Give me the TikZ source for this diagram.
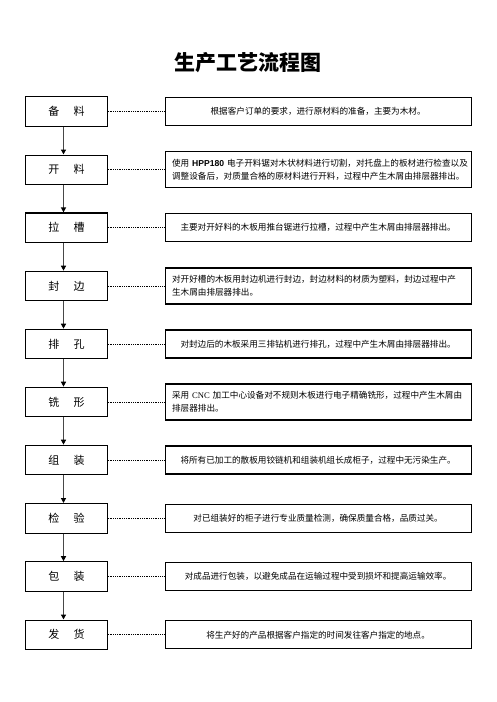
\documentclass[tikz,border=0pt]{standalone}
\usepackage{fontspec}
\setmainfont{Liberation Serif}
\setsansfont{Liberation Sans}
\newfontfamily\cjk{Noto Sans CJK SC}
\usetikzlibrary{arrows.meta, positioning}
\tikzset{
  stage/.style={draw, line width=1.1pt, minimum width=81.6pt, minimum height=29.5pt,
    inner sep=0pt, font=\cjk\fontsize{11}{13}\selectfont},
  note/.style={draw, line width=1.1pt, minimum width=306pt, minimum height=28pt,
    inner sep=6pt, text width=292pt, align=center, font=\cjk\fontsize{8.6}{13}\selectfont},
  notetwo/.style={note, minimum height=36pt, align=left},
  flow/.style={line width=1.9pt, black!72, -{Triangle[length=5pt, width=5pt, color=black]}},
  link/.style={line width=1pt, dash pattern=on 0.9pt off 0.9pt},
}

\begin{document}
\begin{tikzpicture}

  \useasboundingbox (0,0) rectangle (496pt,-702pt);

  % --- title ---
  \node[font=\cjk\bfseries\fontsize{21}{24}\selectfont] (title) at (247.5pt,-63pt) {生产工艺流程图};

  % --- process steps ---
  \node[stage] (beiliao)  at (66.5pt,-111.5pt) {备\hspace{1.3em}料};
  \node[stage] (kailiao)  at (66.5pt,-169.8pt) {开\hspace{1.3em}料};
  \node[stage] (lacao)    at (66.5pt,-227.7pt) {拉\hspace{1.3em}槽};
  \node[stage] (fengbian) at (66.5pt,-286pt)   {封\hspace{1.3em}边};
  \node[stage] (paikong)  at (66.5pt,-344pt)   {排\hspace{1.3em}孔};
  \node[stage] (xixing)   at (66.5pt,-402pt)   {铣\hspace{1.3em}形};
  \node[stage] (zuzhuang) at (66.5pt,-460pt)   {组\hspace{1.3em}装};
  \node[stage] (jianyan)  at (66.5pt,-518.3pt) {检\hspace{1.3em}验};
  \node[stage] (baozhuang) at (66.5pt,-576.5pt) {包\hspace{1.3em}装};
  \node[stage] (fahuo)    at (66.5pt,-634.8pt) {发\hspace{1.3em}货};

  % --- descriptions ---
  \node[note, right=56.7pt of beiliao] (beiliaonote)
    {根据客户订单的要求，进行原材料的准备，主要为木材。};
  \node[notetwo, right=56.7pt of kailiao] (kailiaonote)
    {使用 {\sffamily\bfseries HPP180} 电子开料锯对木状材料进行切割，对托盘上的板材进行检查以及\\
     调整设备后，对质量合格的原材料进行开料，过程中产生木屑由排层器排出。};
  \node[note, right=56.7pt of lacao] (lacaonote)
    {主要对开好料的木板用推台锯进行拉槽，过程中产生木屑由排层器排出。};
  \node[notetwo, right=56.7pt of fengbian] (fengbiannote)
    {对开好槽的木板用封边机进行封边，封边材料的材质为塑料，封边过程中产\\
     生木屑由排层器排出。};
  \node[note, right=56.7pt of paikong] (paikongnote)
    {对封边后的木板采用三排钻机进行排孔，过程中产生木屑由排层器排出。};
  \node[notetwo, right=56.7pt of xixing] (xixingnote)
    {采用 {\rmfamily CNC} 加工中心设备对不规则木板进行电子精确铣形，过程中产生木屑由\\
     排层器排出。};
  \node[note, right=56.7pt of zuzhuang] (zuzhuangnote)
    {将所有已加工的散板用铰链机和组装机组长成柜子，过程中无污染生产。};
  \node[note, right=56.7pt of jianyan] (jianyannote)
    {对已组装好的柜子进行专业质量检测，确保质量合格，品质过关。};
  \node[note, right=56.7pt of baozhuang] (baozhuangnote)
    {对成品进行包装，以避免成品在运输过程中受到损坏和提高运输效率。};
  \node[note, right=56.7pt of fahuo] (fahuonote)
    {将生产好的产品根据客户指定的时间发往客户指定的地点。};

  % --- dotted links ---
  \draw[link] (beiliao) -- (beiliaonote);
  \draw[link] (kailiao) -- (kailiaonote);
  \draw[link] (lacao) -- (lacaonote);
  \draw[link] (fengbian) -- (fengbiannote);
  \draw[link] (paikong) -- (paikongnote);
  \draw[link] (xixing) -- (xixingnote);
  \draw[link] (zuzhuang) -- (zuzhuangnote);
  \draw[link] (jianyan) -- (jianyannote);
  \draw[link] (baozhuang) -- (baozhuangnote);
  \draw[link] (fahuo) -- (fahuonote);

  % --- flow arrows ---
  \draw[flow] ([xshift=-3pt]beiliao.south) -- ([xshift=-3pt]kailiao.north);
  \draw[flow] ([xshift=-3pt]kailiao.south) -- ([xshift=-3pt]lacao.north);
  \draw[flow] ([xshift=-3pt]lacao.south) -- ([xshift=-3pt]fengbian.north);
  \draw[flow] ([xshift=-3pt]fengbian.south) -- ([xshift=-3pt]paikong.north);
  \draw[flow] ([xshift=-3pt]paikong.south) -- ([xshift=-3pt]xixing.north);
  \draw[flow] ([xshift=-3pt]xixing.south) -- ([xshift=-3pt]zuzhuang.north);
  \draw[flow] ([xshift=-3pt]zuzhuang.south) -- ([xshift=-3pt]jianyan.north);
  \draw[flow] ([xshift=-3pt]jianyan.south) -- ([xshift=-3pt]baozhuang.north);
  \draw[flow] ([xshift=-3pt]baozhuang.south) -- ([xshift=-3pt]fahuo.north);

\end{tikzpicture}
\end{document}
